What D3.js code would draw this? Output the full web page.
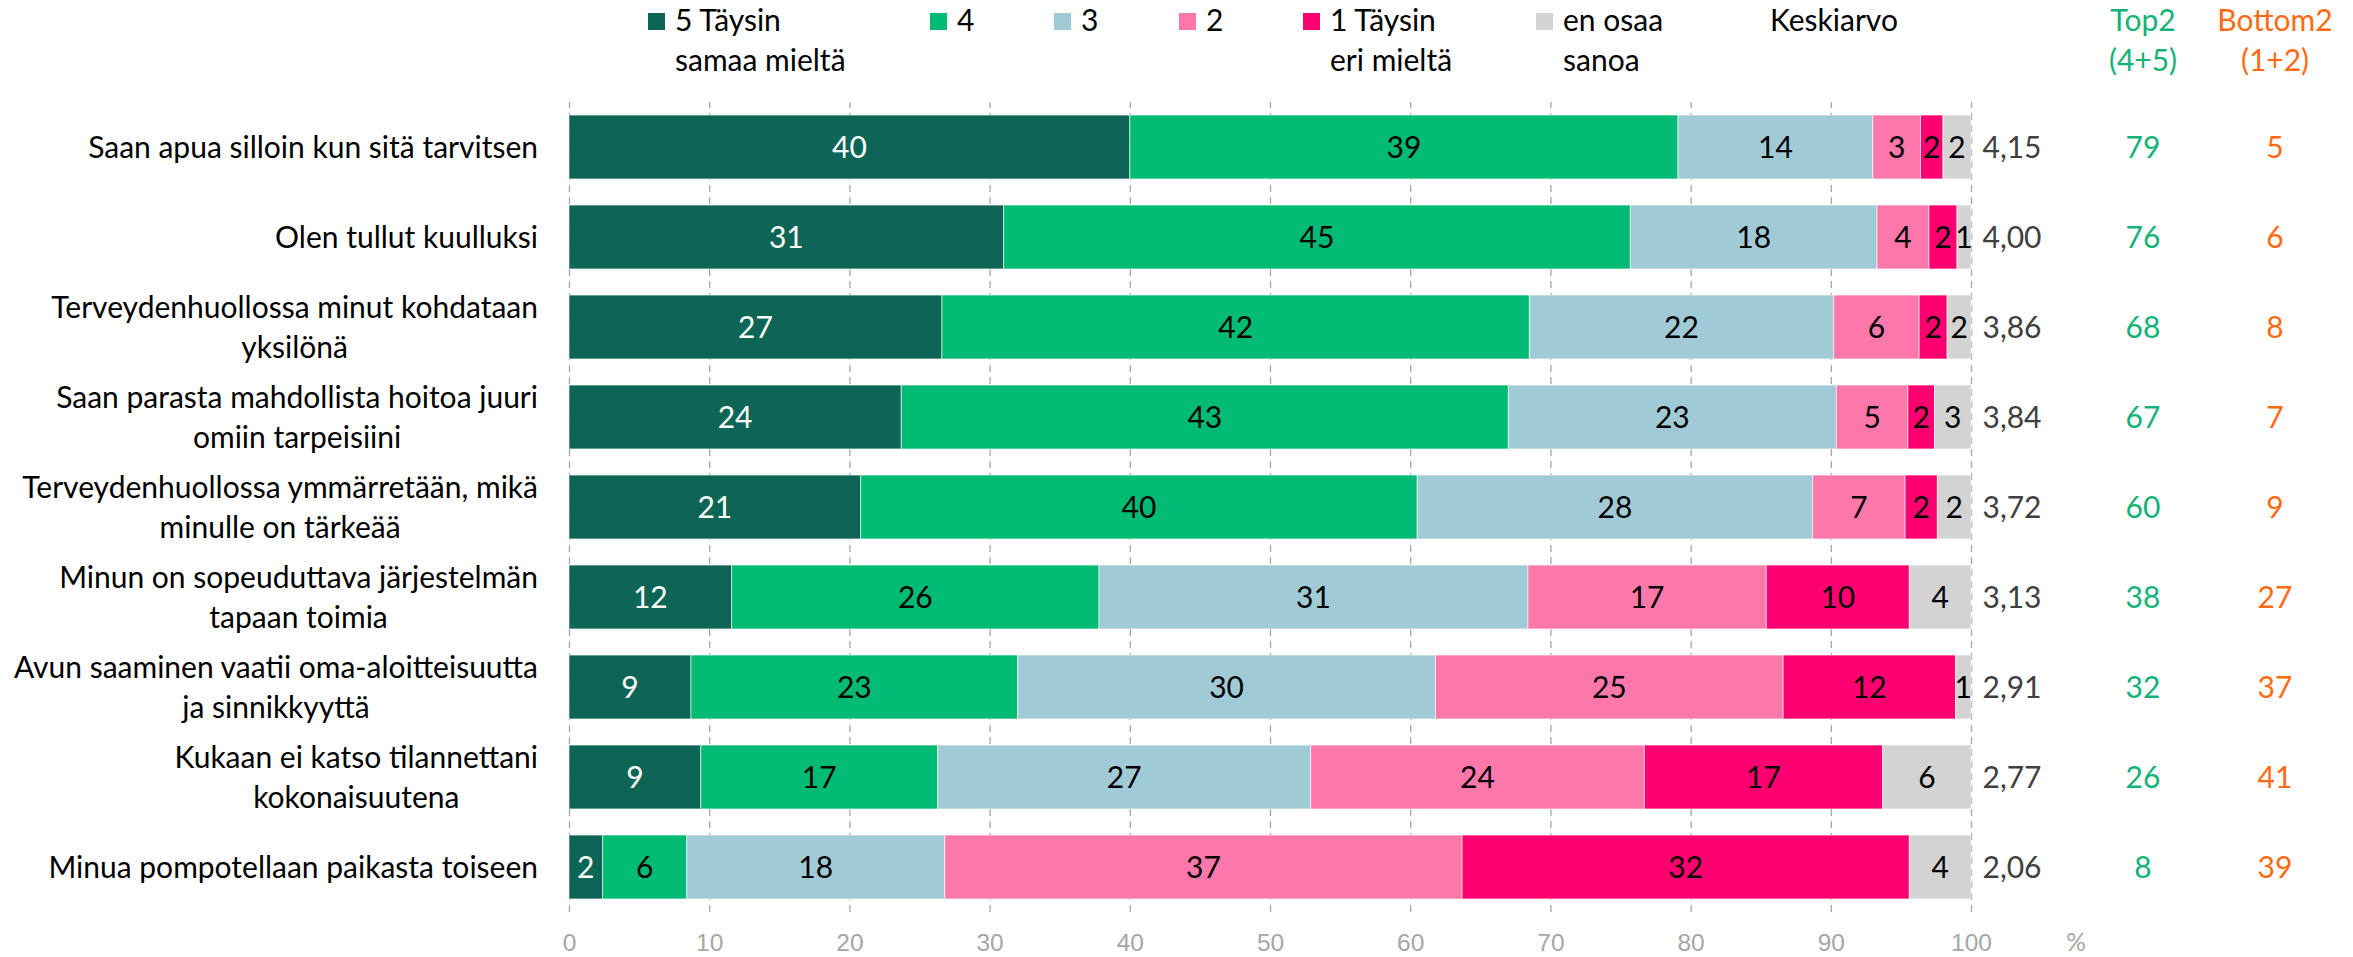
<!DOCTYPE html>
<html>
<head>
<meta charset="utf-8">
<script src="https://cdn.jsdelivr.net/npm/d3@7"></script>
<style>
  body { margin: 0; background: #fff; }
  svg { font-family: Lato, "Open Sans", sans-serif; }
  .grid line { stroke: #a6a6a6; stroke-width: 1.3; stroke-dasharray: 7 5; }
  .grid text { fill: #a6a6a6; font-size: 24.5px; }
</style>
</head>
<body>
<svg id="chart"></svg>
<script>
// statements (wrapped lines as in the original)
const categories = [
  ["Saan apua silloin kun sitä tarvitsen"],
  ["Olen tullut kuulluksi"],
  ["Terveydenhuollossa minut kohdataan", "yksilönä"],
  ["Saan parasta mahdollista hoitoa juuri", "omiin tarpeisiini"],
  ["Terveydenhuollossa ymmärretään, mikä", "minulle on tärkeää"],
  ["Minun on sopeuduttava järjestelmän", "tapaan toimia"],
  ["Avun saaminen vaatii oma-aloitteisuutta", "ja sinnikkyyttä"],
  ["Kukaan ei katso tilannettani", "kokonaisuutena"],
  ["Minua pompotellaan paikasta toiseen"]
];

// percentages per answer option
const agree5 = [40.0, 31.0, 26.6, 23.7, 20.8, 11.6, 8.7, 9.4, 2.4];
const agree4 = [39.1, 44.7, 41.9, 43.3, 39.7, 26.2, 23.3, 16.9, 6.0];
const neutral3 = [13.9, 17.6, 21.7, 23.4, 28.2, 30.6, 29.8, 26.6, 18.4];
const disagree2 = [3.4, 3.7, 6.1, 5.1, 6.6, 17.0, 24.8, 23.8, 36.9];
const disagree1 = [1.6, 2.0, 2.0, 1.9, 2.3, 10.2, 12.3, 17.0, 31.9];
const dontKnow = [2.0, 1.0, 1.7, 2.6, 2.4, 4.4, 1.1, 6.3, 4.4];

const means = [4.15, 4.00, 3.86, 3.84, 3.72, 3.13, 2.91, 2.77, 2.06];
const top2 = [79, 76, 68, 67, 60, 38, 32, 26, 8];
const bottom2 = [5, 6, 8, 7, 9, 27, 37, 41, 39];

const seriesKeys = ["s5", "s4", "s3", "s2", "s1", "eos"];
const seriesLabels = [
  ["5 Täysin", "samaa mieltä"], ["4"], ["3"], ["2"], ["1 Täysin", "eri mieltä"], ["en osaa", "sanoa"]
];
const seriesColors = ["#0d6655", "#01bb75", "#a0cbd6", "#fc78ab", "#fe006f", "#d3d3d3"];
const xTicks = [0, 10, 20, 30, 40, 50, 60, 70, 80, 90, 100];

class StackedBars {
  constructor(_config) {
    this.config = {
      parentElement: _config.parentElement,
      containerWidth: 2353,
      containerHeight: 957,
      plotLeft: 569,
      plotRight: 1971,
      plotTop: 102,
      plotBottom: 912,
      labelRight: 538,
      lineHeight: 40,
      fontSize: 30,
      legendX: [648, 930, 1054, 1179, 1303, 1536],
      meanX: 2012,
      top2X: 2143,
      bottom2X: 2275
    };
    this.initVis();
  }

  initVis() {
    let vis = this;
    const c = vis.config;

    vis.svg = d3.select(c.parentElement)
        .attr('width', c.containerWidth)
        .attr('height', c.containerHeight);

    vis.data = categories.map((cat, i) => ({
      idx: i,
      s5: agree5[i], s4: agree4[i], s3: neutral3[i],
      s2: disagree2[i], s1: disagree1[i], eos: dontKnow[i]
    }));

    vis.xScale = d3.scaleLinear()
        .domain([0, 100])
        .range([c.plotLeft, c.plotRight]);

    vis.yScale = d3.scaleBand()
        .domain(d3.range(categories.length))
        .range([c.plotTop, c.plotBottom])
        .paddingInner(0.29)
        .paddingOuter(0.145);

    vis.colorScale = d3.scaleOrdinal()
        .domain(seriesKeys)
        .range(seriesColors);

    vis.xAxis = d3.axisBottom(vis.xScale)
        .tickValues(xTicks)
        .tickSize(-(c.plotBottom - c.plotTop))
        .tickPadding(22)
        .tickFormat(d3.format('d'));

    vis.renderVis();
  }

  renderVis() {
    let vis = this;
    const c = vis.config;
    const fs = c.fontSize;

    // dashed grid + tick labels
    vis.svg.append('g')
        .attr('class', 'grid')
        .attr('transform', `translate(0,${c.plotBottom})`)
        .call(vis.xAxis)
        .call(g => g.select('.domain').remove());

    vis.svg.append('text')
        .attr('x', 2076)
        .attr('y', c.plotBottom + 22)
        .attr('dy', '0.71em')
        .attr('text-anchor', 'middle')
        .attr('fill', '#a6a6a6')
        .style('font-size', '24.5px')
        .text('%');

    // stacked segments
    const stacked = d3.stack().keys(seriesKeys)(vis.data);

    const layers = vis.svg.append('g').selectAll('g')
        .data(stacked)
        .join('g')
        .attr('fill', d => vis.colorScale(d.key));

    layers.selectAll('rect')
        .data(d => d)
        .join('rect')
        .attr('x', d => vis.xScale(d[0]))
        .attr('width', d => vis.xScale(d[1]) - vis.xScale(d[0]))
        .attr('y', d => vis.yScale(d.data.idx))
        .attr('height', vis.yScale.bandwidth())
        .attr('stroke', '#fff')
        .attr('stroke-width', 1)
        .attr('stroke-opacity', 0.6);

    layers.selectAll('text')
        .data(d => d.map(p => Object.assign({ key: d.key }, p)))
        .join('text')
        .attr('x', d => (vis.xScale(d[0]) + vis.xScale(d[1])) / 2)
        .attr('y', d => vis.yScale(d.data.idx) + vis.yScale.bandwidth() / 2)
        .attr('dy', '0.36em')
        .attr('text-anchor', 'middle')
        .attr('fill', d => d.key === 's5' ? '#fff' : '#000')
        .style('font-size', fs + 'px')
        .text(d => Math.round(d[1] - d[0]));

    // category labels, wrapped lines centred inside a right-aligned block
    const labelG = vis.svg.append('g').selectAll('g')
        .data(categories)
        .join('g');

    labelG.each(function(lines, i) {
      const g = d3.select(this);
      const cy = vis.yScale(i) + vis.yScale.bandwidth() / 2;
      const texts = g.selectAll('text')
          .data(lines)
          .join('text')
          .attr('y', (d, j) => cy + (j - (lines.length - 1) / 2) * c.lineHeight)
          .attr('dy', '0.36em')
          .attr('text-anchor', 'middle')
          .attr('fill', '#000')
          .style('font-size', fs + 'px')
          .text(d => d);
      const maxW = d3.max(texts.nodes(), n => n.getComputedTextLength());
      texts.attr('x', c.labelRight - maxW / 2);
    });

    // side columns
    const fi = d3.formatLocale({ decimal: ',', thousands: ' ', grouping: [3], currency: ['', ''] });
    const fmtMean = fi.format('.2f');

    const side = [
      { vals: means.map(fmtMean), x: c.meanX, color: '#404040' },
      { vals: top2, x: c.top2X, color: '#13b377' },
      { vals: bottom2, x: c.bottom2X, color: '#ff6a13' }
    ];
    side.forEach(col => {
      vis.svg.append('g').selectAll('text')
          .data(col.vals)
          .join('text')
          .attr('x', col.x)
          .attr('y', (d, i) => vis.yScale(i) + vis.yScale.bandwidth() / 2)
          .attr('dy', '0.36em')
          .attr('text-anchor', 'middle')
          .attr('fill', col.color)
          .style('font-size', fs + 'px')
          .text(d => d);
    });

    // legend
    const legend = vis.svg.append('g').selectAll('g')
        .data(seriesKeys)
        .join('g')
        .attr('transform', (d, i) => `translate(${c.legendX[i]},0)`);

    legend.append('rect')
        .attr('y', 13)
        .attr('width', 17)
        .attr('height', 17)
        .attr('fill', d => vis.colorScale(d));

    legend.selectAll('text')
        .data((d, i) => seriesLabels[i])
        .join('text')
        .attr('x', 27)
        .attr('y', (d, j) => 31 + j * 40)
        .attr('fill', '#000')
        .style('font-size', fs + 'px')
        .text(d => d);

    vis.svg.append('text')
        .attr('x', 1770)
        .attr('y', 31)
        .attr('fill', '#000')
        .style('font-size', fs + 'px')
        .text('Keskiarvo');

    const heads = [
      { lines: ['Top2', '(4+5)'], x: c.top2X, color: '#13b377' },
      { lines: ['Bottom2', '(1+2)'], x: c.bottom2X, color: '#ff6a13' }
    ];
    heads.forEach(h => {
      vis.svg.append('g').selectAll('text')
          .data(h.lines)
          .join('text')
          .attr('x', h.x)
          .attr('y', (d, j) => 31 + j * 40)
          .attr('text-anchor', 'middle')
          .attr('fill', h.color)
          .style('font-size', fs + 'px')
          .text(d => d);
    });
  }
}

new StackedBars({ parentElement: '#chart' });
</script>
</body>
</html>
